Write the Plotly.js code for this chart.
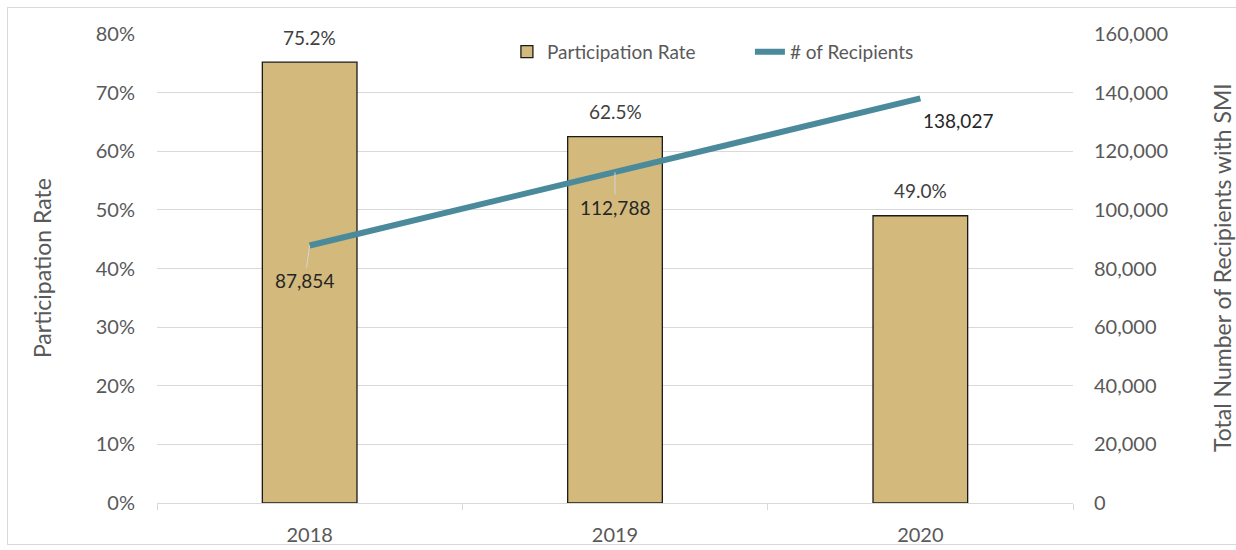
<!DOCTYPE html>
<html>
<head>
<meta charset="utf-8">
<script src="https://cdn.plot.ly/plotly-3.0.1.min.js"></script>
<style>
html,body{margin:0;padding:0;background:#fff;}
#frame{position:absolute;left:7px;top:7px;width:1240px;height:538px;border:1px solid #d9d9d9;box-sizing:border-box;}
#chart{position:absolute;left:0;top:0;width:1236px;height:550px;}
</style>
</head>
<body>
<div id="frame"></div>
<div id="chart"></div>
<script>
const years = ['2018', '2019', '2020'];
const participationRate = [75.2, 62.5, 49.0];
const recipients = [87854, 112788, 138027];
const rateLabels = ['75.2%', '62.5%', '49.0%'];
const recipientLabels = ['87,854', '112,788', '138,027'];
const leftTicks = [0, 10, 20, 30, 40, 50, 60, 70, 80];
const rightTicks = [0, 20000, 40000, 60000, 80000, 100000, 120000, 140000, 160000];

const FONT = 'Lato, "Open Sans", sans-serif';
const GREY = '#595959';
const DARK = '#404040';

const traces = [
  {
    type: 'bar', name: 'Participation Rate', x: years, y: participationRate,
    width: 0.31,
    marker: {color: '#D3BA7C', line: {color: '#1a1a1a', width: 1.3}},
    hoverinfo: 'skip'
  },
  {
    type: 'scatter', mode: 'lines', name: '# of Recipients', x: years, y: recipients,
    yaxis: 'y2',
    line: {color: '#4B8A9B', width: 6},
    hoverinfo: 'skip'
  }
];

const annotations = [];
years.forEach((yr, i) => {
  annotations.push({
    x: i, y: participationRate[i], xref: 'x', yref: 'y',
    text: rateLabels[i], showarrow: false, yanchor: 'middle', yshift: 25,
    font: {family: FONT, size: 19, color: DARK}
  });
});
const lblOff = [[-5, 35], [0, 35], [38, 22]];
const leaderColor = ['#d4d4d4', '#d4d4d4', 'rgba(0,0,0,0)'];
years.forEach((yr, i) => {
  annotations.push({
    x: i, y: recipients[i], xref: 'x', yref: 'y2',
    text: recipientLabels[i], showarrow: true, arrowhead: 0, arrowwidth: 1,
    arrowcolor: leaderColor[i], ax: lblOff[i][0], ay: lblOff[i][1],
    font: {family: FONT, size: 19, color: '#262626'}
  });
});
annotations.push({
  xref: 'paper', yref: 'paper', x: -0.1255, y: 0.501, xanchor: 'center', yanchor: 'middle',
  text: 'Participation Rate',
  textangle: -90, showarrow: false, font: {family: FONT, size: 23, color: GREY}
});
annotations.push({
  xref: 'paper', yref: 'paper', x: 1.1627, y: 0.501, xanchor: 'center', yanchor: 'middle',
  text: 'Total Number of Recipients with SMI',
  textangle: -90, showarrow: false, font: {family: FONT, size: 23, color: GREY}
});

const layout = {
  width: 1236, height: 550,
  margin: {l: 157, r: 163, t: 34, b: 47},
  paper_bgcolor: 'rgba(0,0,0,0)', plot_bgcolor: '#fff',
  font: {family: FONT, color: GREY, size: 20},
  showlegend: true,
  legend: {
    orientation: 'h', x: 0.382, xanchor: 'left', y: 0.962, yanchor: 'middle',
    font: {family: FONT, size: 19, color: GREY}, bgcolor: 'rgba(255,255,255,0)',
    entrywidth: 198, entrywidthmode: 'pixels', traceorder: 'normal'
  },
  xaxis: {
    type: 'category', range: [-0.5, 2.5], showgrid: false,
    showline: true, linecolor: '#d9d9d9', linewidth: 1,
    ticks: 'outside', tickson: 'boundaries', ticklen: 6, tickcolor: '#d9d9d9',
    tickfont: {family: FONT, size: 20, color: GREY}, ticklabelstandoff: 14
  },
  yaxis: {
    range: [0, 80], tickvals: leftTicks, ticktext: leftTicks.map(v => v + '%'),
    showgrid: true, gridcolor: '#d9d9d9', zeroline: false, showline: false,
    ticks: '', tickfont: {family: FONT, size: 20, color: GREY}, ticklabelstandoff: 21
  },
  yaxis2: {
    overlaying: 'y', side: 'right', range: [0, 160000], tickvals: rightTicks,
    ticktext: rightTicks.map(v => v.toLocaleString('en-US')),
    showgrid: false, zeroline: false, showline: false, ticks: '',
    tickfont: {family: FONT, size: 20, color: GREY}, ticklabelstandoff: 20
  },
  annotations: annotations
};

Plotly.newPlot('chart', traces, layout, {staticPlot: true, displayModeBar: false});
</script>
</body>
</html>
